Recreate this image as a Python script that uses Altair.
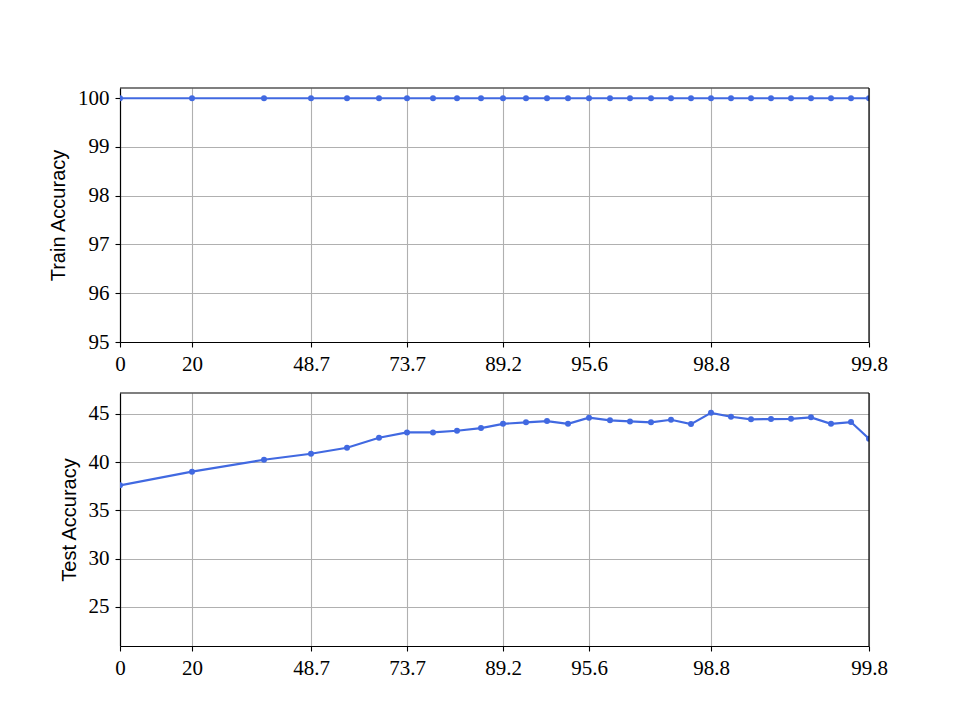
import altair as alt
import pandas as pd

# position of each pruning round along the x axis (axis units)
x_pos = [0, 72, 144, 191, 227, 259, 287, 313, 337, 361, 383, 406, 427, 448, 469,
         490, 510, 531, 551, 571, 591, 611, 631, 651, 671, 691, 711, 731, 749]
train_acc = [100.0] * 29
test_acc = [37.59, 39.0, 40.24, 40.86, 41.48, 42.52, 43.07, 43.07, 43.24, 43.52,
            43.96, 44.11, 44.24, 43.96, 44.59, 44.32, 44.21, 44.11, 44.38, 43.93,
            45.10, 44.69, 44.42, 44.45, 44.48, 44.63, 43.96, 44.14, 42.41]

tick_pos = [0, 72, 191, 287, 383, 469, 591, 749]
tick_labels = ["0", "20", "48.7", "73.7", "89.2", "95.6", "98.8", "99.8"]

df = pd.DataFrame({"x": x_pos, "train": train_acc, "test": test_acc})
one = pd.DataFrame({"a": [0]})

label_expr = ""
for p, l in zip(tick_pos, tick_labels):
    label_expr += f"datum.value == {p} ? '{l}' : "
label_expr += "''"

COLOR = "#4169e1"
SERIF = "Liberation Serif"
SANS = "Liberation Sans"
W = 749

x_enc = alt.X("x:Q", scale=alt.Scale(domain=[0, 749], nice=False, zero=False),
              axis=alt.Axis(values=tick_pos, labelExpr=label_expr, title=None,
                            grid=True))


def panel(field, title, domain, ticks, height):
    y_enc = alt.Y(f"{field}:Q", scale=alt.Scale(domain=domain, nice=False, zero=False),
                  axis=alt.Axis(values=ticks, title=title, grid=True))
    base = alt.Chart(df).encode(x=x_enc, y=y_enc)
    line = base.mark_line(color=COLOR, strokeWidth=2.2, clip=True)
    pts = base.mark_circle(color=COLOR, size=36, opacity=1, clip=True)
    right = alt.Chart(one).mark_rule(color="black", strokeWidth=1.2).encode(
        x=alt.value(W), y=alt.value(0), y2=alt.value(height))
    top = alt.Chart(one).mark_rule(color="black", strokeWidth=1.2).encode(
        x=alt.value(0), x2=alt.value(W), y=alt.value(0))
    return alt.layer(line, pts, right, top).properties(width=W, height=height)


top = panel("train", "Train Accuracy", [95, 100.21], [95, 96, 97, 98, 99, 100], 254)
bot = panel("test", "Test Accuracy", [20.95, 47.15], [25, 30, 35, 40, 45], 253)

chart = alt.vconcat(top, bot, spacing=51, bounds="flush").properties(
    padding={"left": 40, "top": 79, "right": 5, "bottom": 5}
).configure_view(
    stroke=None
).configure_axis(
    gridColor="#b0b0b0", gridWidth=1.1, gridOpacity=1,
    domain=True, domainColor="black", domainWidth=1.2,
    tickColor="black", tickSize=5, tickWidth=1.1,
    labelFont=SERIF, labelFontSize=21, labelColor="black", labelPadding=6,
    titleFont=SANS, titleFontSize=20, titleFontWeight="normal", titleColor="black",
    titlePadding=9, labelFlush=False, labelOverlap=False
)

chart.save("out.html", embed_options={"renderer": "svg", "actions": False})
